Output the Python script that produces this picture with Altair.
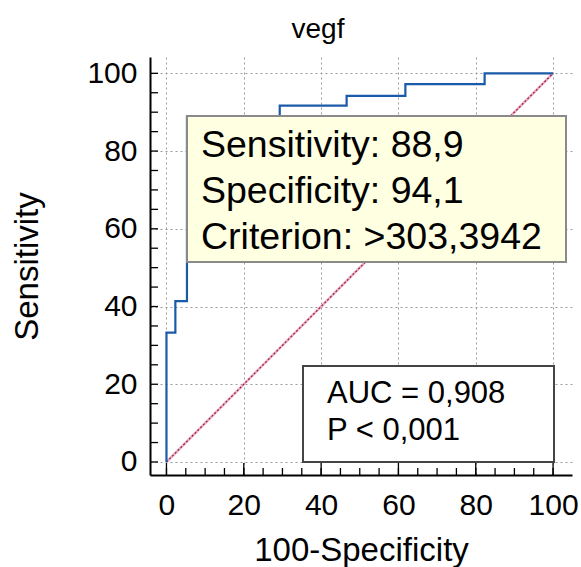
import altair as alt
import pandas as pd

# ROC curve vertices (100-Specificity, Sensitivity)
fpr = [0, 0, 2.3, 2.3, 5.3, 5.3, 29.3, 29.3, 46.6, 46.6, 61.8, 61.8, 82.3, 82.3, 100]
sens = [0, 33.3, 33.3, 41.4, 41.4, 88.9, 88.9, 91.7, 91.7, 94.2, 94.2, 97.2, 97.2, 100, 100]
diag_x = [0, 100]
diag_y = [0, 100]
minor_ticks = list(range(0, 101, 5))
major_ticks = [0, 20, 40, 60, 80, 100]
stats_lines = ["Sensitivity: 88,9", "Specificity: 94,1", "Criterion: >303,3942"]
auc_lines = ["AUC = 0,908", "P < 0,001"]

FONT = "Liberation Sans"
W, H = 422, 418

xscale = alt.Scale(domain=[-4.26, 104.9], nice=False, zero=False)
yscale = alt.Scale(domain=[-3.35, 104.2], nice=False, zero=False)

roc_df = pd.DataFrame({"fpr": fpr, "sens": sens, "i": list(range(len(fpr)))})
diag_df = pd.DataFrame({"fpr": diag_x, "sens": diag_y})
minor_df = pd.DataFrame({"fpr": minor_ticks, "sens": minor_ticks})
major_df = pd.DataFrame({"fpr": major_ticks})
one = pd.DataFrame({"k": [0]})

x_axis = alt.Axis(
    values=major_ticks, ticks=False, grid=True, gridDash=[2, 3], gridColor="#9a9a9a",
    gridWidth=1, domainColor="black", domainWidth=2, labelFontSize=30, labelFont=FONT,
    labelColor="black", labelPadding=15, title="100-Specificity", titleFontSize=33,
    titleFont=FONT, titleFontWeight="normal", titleColor="black", titleX=211, titleY=85,
    titleBaseline="alphabetic", titleAlign="center",
)
y_axis = alt.Axis(
    values=major_ticks, ticks=False, grid=True, gridDash=[2, 3], gridColor="#9a9a9a",
    gridWidth=1, domainColor="black", domainWidth=2, labelFontSize=30, labelFont=FONT,
    labelColor="black", labelPadding=13, title="Sensitivity", titleFontSize=33,
    titleFont=FONT, titleFontWeight="normal", titleColor="black", titleAngle=270,
    titleX=-113, titleY=209, titleBaseline="alphabetic", titleAlign="center",
)

X = alt.X("fpr:Q", scale=xscale, axis=x_axis)
Y = alt.Y("sens:Q", scale=yscale, axis=y_axis)

diag_under = alt.Chart(diag_df).mark_line(color="#eab0c0", strokeWidth=2.6, clip=True).encode(x=X, y=Y)
diag_dash = alt.Chart(diag_df).mark_line(
    color="#9e1c44", strokeWidth=1.2, strokeDash=[2, 2], clip=True
).encode(x=X, y=Y)
roc = alt.Chart(roc_df).mark_line(color="#1b5aa8", strokeWidth=2.2, clip=True).encode(
    x=X, y=Y, order="i:Q"
)

x_minor = alt.Chart(minor_df).mark_rule(color="black", strokeWidth=1.3).encode(
    x=X, y=alt.value(H), y2=alt.value(H - 7)
)
x_major = alt.Chart(major_df).mark_rule(color="black", strokeWidth=1.3).encode(
    x=X, y=alt.value(H), y2=alt.value(H - 12)
)
y_minor = alt.Chart(minor_df).mark_rule(color="black", strokeWidth=1.3).encode(
    y=Y, x=alt.value(0), x2=alt.value(8)
)

box1 = alt.Chart(one).mark_rect(fill="#ffffe1", stroke="#8a8a8a", strokeWidth=2).encode(
    x=alt.value(37), x2=alt.value(416), y=alt.value(59), y2=alt.value(205)
)
box1_text = alt.Chart(one).mark_text(
    text=stats_lines, align="left", baseline="alphabetic", font=FONT, fontSize=37.5,
    lineHeight=46, color="black",
).encode(x=alt.value(51), y=alt.value(100))

box2 = alt.Chart(one).mark_rect(fill="white", stroke="#454545", strokeWidth=2).encode(
    x=alt.value(153), x2=alt.value(404), y=alt.value(309), y2=alt.value(405)
)
box2_text = alt.Chart(one).mark_text(
    text=auc_lines, align="left", baseline="alphabetic", font=FONT, fontSize=31,
    lineHeight=37, color="black",
).encode(x=alt.value(177), y=alt.value(346))

chart = alt.layer(
    diag_under, diag_dash, roc, x_minor, x_major, y_minor, box1, box1_text, box2, box2_text
).properties(
    width=W, height=H,
    title=alt.TitleParams("vegf", fontSize=28, font=FONT, fontWeight="normal", color="black",
                          anchor="middle", dx=-43, dy=29, offset=20, baseline="alphabetic",
                          frame="group"),
    autosize=alt.AutoSizeParams(type="none"),
    padding={"left": 150, "top": 57, "right": 9, "bottom": 92},
).configure_view(stroke=None)

chart.save("out.html", embed_options={"renderer": "svg", "actions": False})
